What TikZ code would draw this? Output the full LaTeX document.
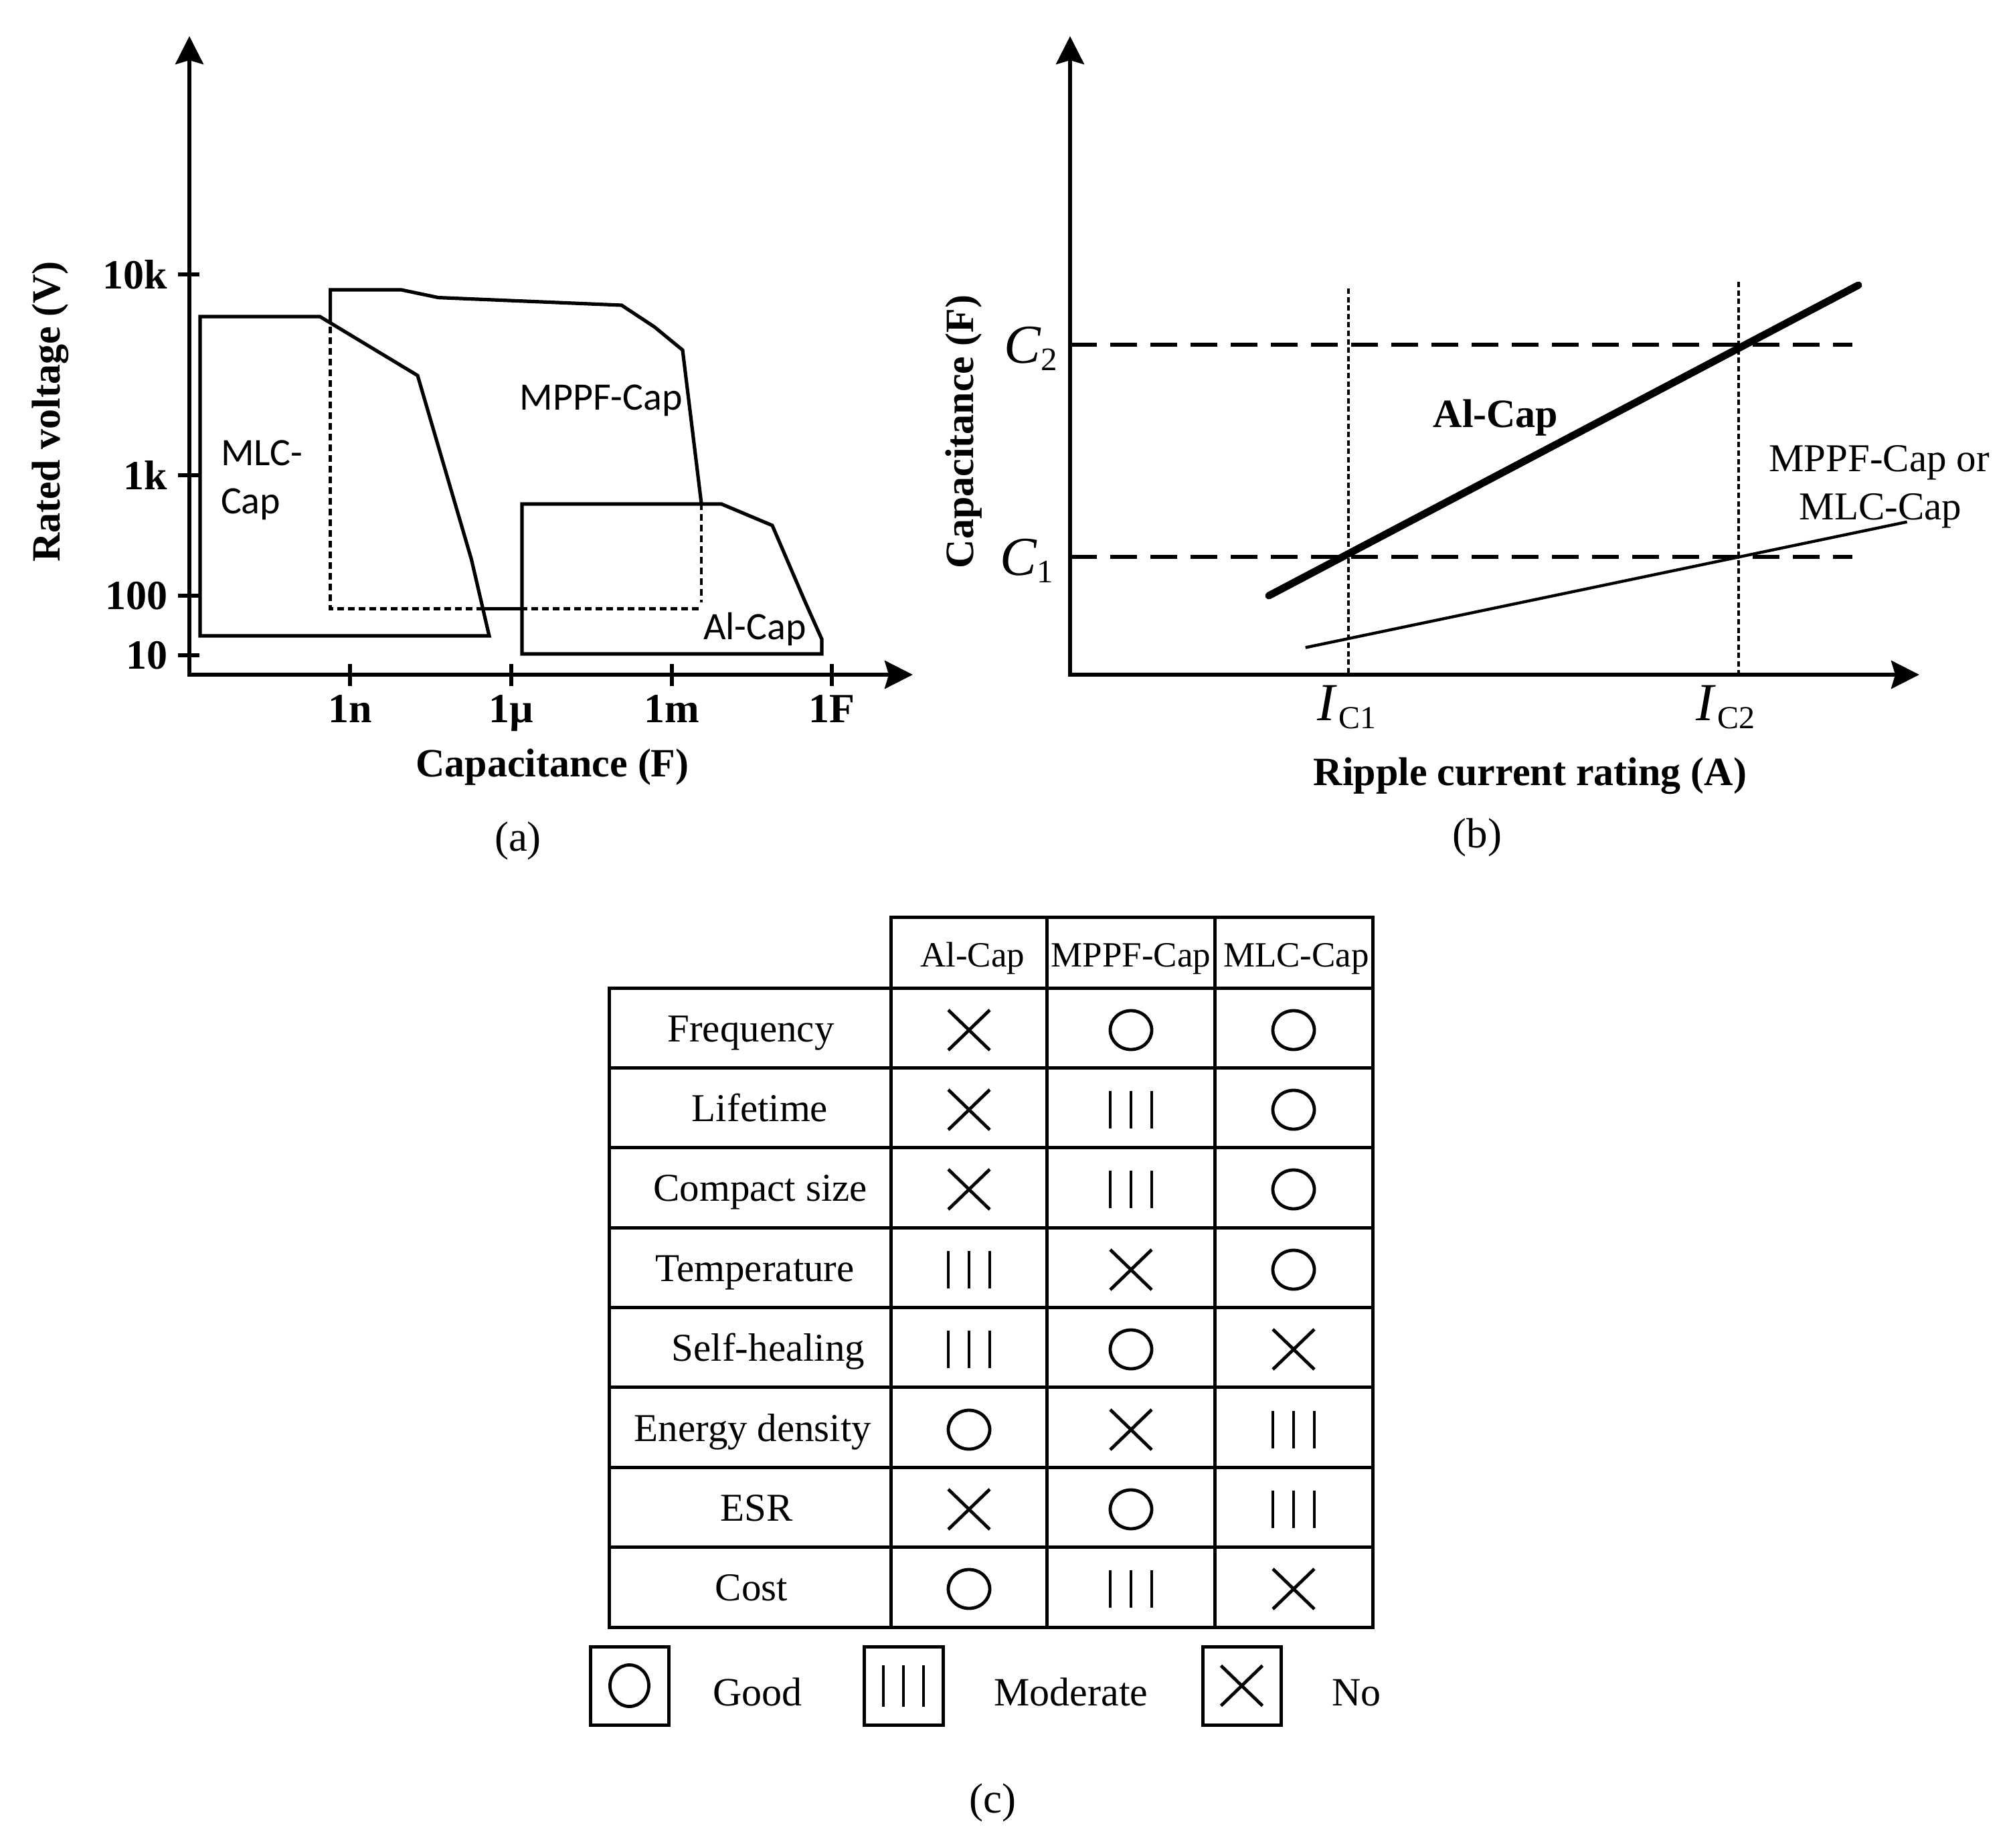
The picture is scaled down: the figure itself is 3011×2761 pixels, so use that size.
\documentclass[tikz,border=0pt]{standalone}
\usepackage{fontspec}
\setmainfont{Liberation Serif}
\newfontfamily\carlito{Carlito}
\usetikzlibrary{arrows.meta}
\newcommand{\myfs}[1]{\fontsize{#1}{#1}\selectfont}
\begin{document}
\begin{tikzpicture}[x=0.5pt,y=-0.5pt,
  every node/.style={inner sep=0pt, outer sep=0pt},
  axisline/.style={line width=2.7pt},
  tips/.style={{Stealth[length=21pt,width=21pt,inset=3pt]}-{Stealth[length=21pt,width=21pt,inset=3pt]}},
  region/.style={line width=2.6pt, line join=miter},
  regdots/.style={line width=2.4pt, dash pattern=on 5pt off 3pt},
  refdash/.style={line width=2.6pt, dash pattern=on 20pt off 10pt},
  refdot/.style={line width=1.8pt, dash pattern=on 4pt off 2.3pt},
  gridline/.style={line width=2.5pt},
  sym/.style={line width=2.4pt},
  ticklab/.style={font=\bfseries\myfs{31}},
  axlab/.style={font=\bfseries\myfs{30}},
  sublab/.style={font=\myfs{31.5}},
  reglab/.style={font=\carlito\myfs{29}},
  cell/.style={font=\myfs{29.5}},
  head/.style={font=\myfs{26.5}},
  pO/.pic={\draw[sym] (0,0) ellipse [x radius=31, y radius=29];},
  pOL/.pic={\draw[sym] (0,0) ellipse [x radius=29, y radius=31];},
  pX/.pic={\draw[sym] (-31,-30) -- (31,30) (-31,30) -- (31,-30);},
  pI/.pic={\draw[sym] (-31,-28) -- (-31,28) (0,-28) -- (0,28) (31,-28) -- (31,28);},
  pIL/.pic={\draw[sym] (-30,-31) -- (-30,31) (0,-31) -- (0,31) (30,-31) -- (30,31);},
]
\useasboundingbox (0,0) rectangle (3011,2761);

% ---------------- panel (a) ----------------
\coordinate (aO) at (283,1008);
\coordinate (aY) at (283,54);
\coordinate (aX) at (1364,1008);
\draw[axisline,tips] (aY) -- (aO) -- (aX);
\foreach \yy/\lab/\nm in {410/10k/ta, 710/1k/tb, 890/100/tc, 979/10/td}{
  \draw[axisline] (266,\yy) -- (298,\yy);
  \node[ticklab, anchor=east] (\nm) at (250,\yy) {\lab};
}
\foreach \xx/\lab/\nm in {523/1n/xa, 764/1µ/xb, 1004/1m/xc, 1243/1F/xd}{
  \draw[axisline] (\xx,992) -- (\xx,1025);
  \node[ticklab, anchor=base] (\nm) at (\xx,1079) {\lab};
}
\node[axlab, anchor=base] (axa) at (825.5,1160) {Capacitance (F)};
\node[axlab, rotate=90] (aya) at (75,615) {Rated voltage (V)};
\node[sublab] (capa) at (774,1256) {(a)};

% MLC-Cap region
\draw[region] (299,473) -- (478,473) -- (624,561) -- (704.5,836) -- (731,950) -- (299,950) -- cycle;
% Al-Cap region
\draw[region] (780,753) -- (1078,753) -- (1154,785) -- (1203,899) -- (1228,955) -- (1228,977) -- (780,977) -- cycle;
% MPPF-Cap region
\draw[region] (493.6,482) -- (493.6,433) -- (599.5,433) -- (655,444.6) -- (928.8,456) -- (978,488.5) -- (1020,523) -- (1048,752);
\draw[region] (721.6,909.5) -- (780,909.5);
\draw[regdots] (1048,752) -- (1048,900);
\draw[regdots] (1044,909.5) -- (780,909.5);
\draw[regdots] (721.6,909.5) -- (493.6,909.5) -- (493.6,482);

\node[reglab, anchor=base west] (mlca) at (330,695.6) {MLC-};
\node[reglab, anchor=base west] (mlcb) at (330,767) {Cap};
\node[reglab, anchor=base] (mppfa) at (898,612.7) {MPPF-Cap};
\node[reglab, anchor=base] (ala) at (1128,955) {Al-Cap};

% ---------------- panel (b) ----------------
\coordinate (bO) at (1599,1008);
\coordinate (bY) at (1599,54);
\coordinate (bX) at (2868,1008);
\coordinate (c2a) at (1599,515);
\coordinate (c2b) at (2768,515);
\coordinate (c1a) at (1599,832);
\coordinate (c1b) at (2768,832);
\coordinate (i1a) at (2015,431);
\coordinate (i1b) at (2015,1008);
\coordinate (i2a) at (2598,421);
\coordinate (i2b) at (2598,1008);
\coordinate (ala1) at (1896,890);
\coordinate (ala2) at (2777,426);
\coordinate (mp1) at (1950.7,967.5);
\coordinate (mp2) at (2849.6,779.7);

\draw[refdash] (c2a) -- (c2b);
\draw[refdash] (c1a) -- (c1b);
\draw[refdot] (i1a) -- (i1b);
\draw[refdot] (i2a) -- (i2b);
\draw[line width=5.5pt, line cap=round] (ala1) -- (ala2);
\draw[line width=2.2pt] (mp1) -- (mp2);
\draw[axisline,tips] (bY) -- (bO) -- (bX);

\node[anchor=base west] (cc2) at (1500,542.7) {{\myfs{41}\textit{C}}\raisebox{-5.3pt}{\myfs{24.5}2}};
\node[anchor=base west] (cc1) at (1494,859.7) {{\myfs{41}\textit{C}}\raisebox{-5.3pt}{\myfs{24.5}1}};
\node[anchor=base west] (ic1) at (1968,1076) {{\myfs{40}\textit{I}}\kern1.5pt\raisebox{-6.2pt}{\myfs{24}C1}};
\node[anchor=base west] (ic2) at (2534,1076) {{\myfs{40}\textit{I}}\kern1.5pt\raisebox{-6.2pt}{\myfs{24}C2}};
\node[axlab, anchor=base] (alb) at (2235,638) {Al-Cap};
\node[font=\myfs{29.5}, anchor=base] (mpb1) at (2808,704.5) {MPPF-Cap or};
\node[font=\myfs{29.5}, anchor=base] (mpb2) at (2810,776) {MLC-Cap};
\node[axlab, anchor=base] (axb) at (2286.5,1173) {Ripple current rating (A)};
\node[axlab, rotate=90] (ayb) at (1440,645) {Capacitance (F)};
\node[sublab] (capb) at (2207.5,1251) {(b)};

% ---------------- panel (c) ----------------
\draw[gridline] (1331,1370) rectangle (2051.5,2431);
\draw[gridline] (910,1476) rectangle (2051.5,2431);
\draw[gridline] (1564.5,1370) -- (1564.5,2431);
\draw[gridline] (1815,1370) -- (1815,2431);
\foreach \k in {1,...,7}{
  \draw[gridline] (910,{1476+119.375*\k}) -- (2051.5,{1476+119.375*\k});
}
\node[head, anchor=base] (h1) at (1453,1444) {Al-Cap};
\node[head, anchor=base] (h2) at (1690,1444) {MPPF-Cap};
\node[head, anchor=base] (h3) at (1937,1444) {MLC-Cap};

\node[cell, anchor=base] (r1) at (1122,1556) {Frequency};
\node[cell, anchor=base] (r2) at (1135.5,1675) {Lifetime};
\node[cell, anchor=base] (r3) at (1136,1794) {Compact size};
\node[cell, anchor=base] (r4) at (1128,1914) {Temperature};
\node[cell, anchor=base] (r5) at (1148,2033) {Self-healing};
\node[cell, anchor=base] (r6) at (1125,2153) {Energy density};
\node[cell, anchor=base] (r7) at (1131,2272) {ESR};
\node[cell, anchor=base] (r8) at (1123,2391) {Cost};

% Frequency
\pic at (1448,1539) {pX}; \pic at (1690,1539) {pO}; \pic at (1933,1539) {pO};
% Lifetime
\pic at (1448,1658) {pX}; \pic at (1690,1658) {pI}; \pic at (1933,1658) {pO};
% Compact size
\pic at (1448,1777) {pX}; \pic at (1690,1777) {pI}; \pic at (1933,1777) {pO};
% Temperature
\pic at (1448,1897) {pI}; \pic at (1690,1897) {pX}; \pic at (1933,1897) {pO};
% Self-healing
\pic at (1448,2016) {pI}; \pic at (1690,2016) {pO}; \pic at (1933,2016) {pX};
% Energy density
\pic at (1448,2136) {pO}; \pic at (1690,2136) {pX}; \pic at (1933,2136) {pI};
% ESR
\pic at (1448,2255) {pX}; \pic at (1690,2255) {pO}; \pic at (1933,2255) {pI};
% Cost
\pic at (1448,2374) {pO}; \pic at (1690,2374) {pI}; \pic at (1933,2374) {pX};

% legend
\draw[gridline] (882,2460) rectangle (999,2577);
\draw[gridline] (1291,2460) rectangle (1409,2577);
\draw[gridline] (1797,2460) rectangle (1914,2577);
\pic at (940.5,2518.5) {pOL};
\pic at (1350,2518.5) {pIL};
\pic at (1855.5,2518.5) {pX};
\node[cell, font=\myfs{30}, anchor=base] (lg1) at (1132,2548) {Good};
\node[cell, font=\myfs{30}, anchor=base] (lg2) at (1600.5,2548) {Moderate};
\node[cell, font=\myfs{30}, anchor=base] (lg3) at (2027,2548) {No};
\node[sublab] (capc) at (1483,2693.6) {(c)};
\end{tikzpicture}
\end{document}
